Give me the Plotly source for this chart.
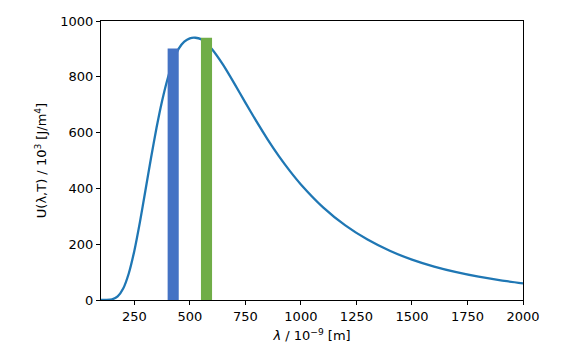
import plotly.graph_objects as go

# Spectral energy density curve
wavelength_nm = [100, 125, 150, 175, 200, 225, 250, 275, 300, 325, 350, 375, 400, 425,
                 450, 475, 500, 525, 550, 575, 600, 650, 700, 750, 800, 850, 900, 950,
                 1000, 1100, 1200, 1300, 1400, 1500, 1600, 1700, 1800, 1900, 2000]
energy_density = [0.0, 0.2, 2.4, 12.8, 41.1, 95.1, 176.0, 278.2, 392.3, 508.1, 617.1, 713.3,
                  793.2, 855.3, 901.0, 926.0, 938.0, 940.0, 935.0, 920.0, 899.0, 842.8,
                  776.6, 707.6, 640.0, 575.9, 516.7, 462.9, 414.3, 332.2, 267.3, 216.4,
                  176.4, 144.7, 119.6, 99.6, 83.4, 70.4, 59.7]

# Highlighted bands
band_left = [400, 550]
band_right = [450, 600]
band_height = [901, 940]
band_colors = ["#4472C4", "#70AD47"]

x_ticks = [250, 500, 750, 1000, 1250, 1500, 1750, 2000]
y_ticks = [0, 200, 400, 600, 800, 1000]

fig = go.Figure()
fig.add_trace(go.Scatter(x=wavelength_nm, y=energy_density, mode="lines",
                         line=dict(color="#1f77b4", width=2.3, shape="spline", smoothing=0.6),
                         showlegend=False, hoverinfo="skip"))
for l, r, h, c in zip(band_left, band_right, band_height, band_colors):
    fig.add_trace(go.Scatter(x=[l, r, r, l, l], y=[0, 0, h, h, 0], mode="lines",
                             fill="toself", fillcolor=c, line=dict(width=0, color=c),
                             showlegend=False, hoverinfo="skip"))

axis_common = dict(showgrid=False, zeroline=False, showline=True, linecolor="black",
                   linewidth=1, mirror=True, ticks="outside", ticklen=4, tickwidth=1,
                   tickcolor="black", tickfont=dict(family="DejaVu Sans", size=13, color="black"))

fig.update_xaxes(range=[100, 2000], tickvals=x_ticks, ticktext=[str(v) for v in x_ticks],
                 title=dict(text="<i>λ</i> / 10<sup>−9</sup> [m]", standoff=8,
                            font=dict(family="DejaVu Sans", size=13, color="black")),
                 **axis_common)
fig.update_yaxes(range=[0, 1000], tickvals=y_ticks, ticktext=[str(v) for v in y_ticks],
                 title=dict(text="U(λ,T) / 10<sup>3</sup> [J/m<sup>4</sup>]", standoff=10,
                            font=dict(family="DejaVu Sans", size=13, color="black")),
                 **axis_common)

fig.update_layout(width=565, height=351, margin=dict(l=101, r=42, t=21, b=51, autoexpand=False),
                  plot_bgcolor="white", paper_bgcolor="white")

fig.write_html("out.html")
